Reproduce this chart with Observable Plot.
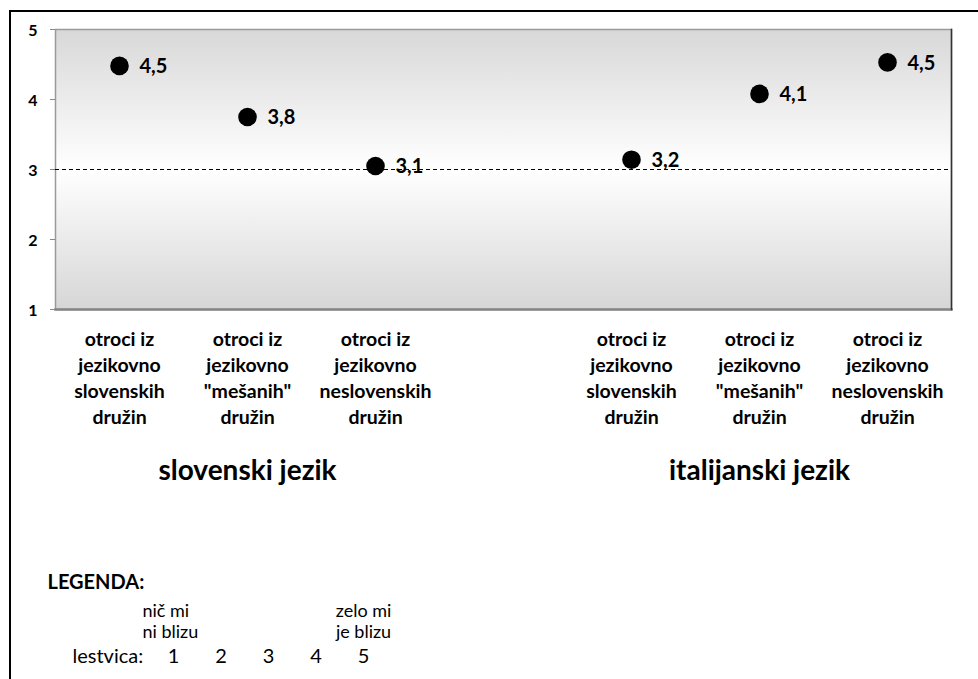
<!DOCTYPE html>
<html><head><meta charset="utf-8">
<script src="https://cdn.jsdelivr.net/npm/d3@7"></script>
<script src="https://cdn.jsdelivr.net/npm/@observablehq/plot@0.6"></script>
<style>
body{margin:0;background:#fff;font-family:Lato,"Open Sans",sans-serif;}
#wrap{position:relative;width:978px;height:679px;overflow:hidden;background:#fff;}
#border{position:absolute;left:9px;top:10px;width:1000px;height:700px;border:2px solid #000;box-sizing:border-box;}
#chart{position:absolute;left:0;top:0;}
#legend{position:absolute;left:0;top:560px;}
svg{overflow:visible;}
</style></head><body>
<div id="wrap"><div id="border"></div><div id="chart"></div><div id="legend"></div></div>
<script>
// ---- data ----
const categories = ["s1", "s2", "s3", "gap", "i1", "i2", "i3"];
const categoryLabels = [
  "otroci iz\njezikovno\nslovenskih\ndružin",
  "otroci iz\njezikovno\n\"mešanih\"\ndružin",
  "otroci iz\njezikovno\nneslovenskih\ndružin",
  "",
  "otroci iz\njezikovno\nslovenskih\ndružin",
  "otroci iz\njezikovno\n\"mešanih\"\ndružin",
  "otroci iz\njezikovno\nneslovenskih\ndružin"
];
const pointCategories = ["s1", "s2", "s3", "i1", "i2", "i3"];
const pointValues = [4.48, 3.75, 3.05, 3.14, 4.08, 4.53];
const pointLabels = ["4,5", "3,8", "3,1", "3,2", "4,1", "4,5"];
const groupNames = ["slovenski jezik", "italijanski jezik"];
const groupCenters = ["s2", "i2"];
const yTicks = [1, 2, 3, 4, 5];
const referenceLine = [3];
const legendScale = [1, 2, 3, 4, 5];
const legendTitle = "LEGENDA:";
const legendAxisLabel = "lestvica:";
const legendLow = "nič mi\nni blizu";
const legendHigh = "zelo mi\nje blizu";

// ---- table ----
const points = pointCategories.map((c, i) => ({cat: c, value: pointValues[i], label: pointLabels[i]}));
const groups = groupNames.map((g, i) => ({name: g, cat: groupCenters[i]}));
const labelOf = new Map(categories.map((c, i) => [c, categoryLabels[i]]));

const FONT = "Lato, 'Open Sans', sans-serif";

const chart = Plot.plot({
  width: 978,
  height: 500,
  marginLeft: 55,
  marginRight: 27,
  marginTop: 29,
  marginBottom: 191,
  style: {fontFamily: FONT, color: "#000", background: "transparent"},
  x: {domain: categories, paddingInner: 0, paddingOuter: 0},
  y: {domain: [1, 5]},
  marks: [
    Plot.frame({fill: "url(#bgGrad)", stroke: "#9a9a9a", strokeWidth: 1.5}),
    Plot.frame({anchor: "bottom", stroke: "#858585", strokeWidth: 2.5}),
    Plot.frame({anchor: "right", stroke: "#333", strokeWidth: 1.5}),
    Plot.ruleY(referenceLine, {stroke: "#000", strokeWidth: 1, strokeDasharray: "4,3"}),
    Plot.axisY({ticks: yTicks, tickSize: 5, stroke: "#888", text: null, label: null}),
    Plot.text(yTicks, {y: d => d, text: d => String(d), frameAnchor: "left", dx: -18, dy: 1, textAnchor: "end", lineAnchor: "middle", fontSize: 16, fontWeight: "bold", fill: "#000"}),
    Plot.axisX({ticks: categories.filter(c => labelOf.get(c)), tickSize: 0, tickPadding: 18, fontSize: 19.5, fontWeight: "bold", lineHeight: 1.33, tickFormat: c => labelOf.get(c), label: null}),
    Plot.dot(points, {x: "cat", y: "value", r: 9.3, fill: "#000", stroke: "none"}),
    Plot.text(points, {x: "cat", y: "value", text: "label", dx: 20, dy: 1, textAnchor: "start", lineAnchor: "middle", fontSize: 20, fontWeight: "bold", fill: "#000"}),
    Plot.text(groups, {x: "cat", text: "name", frameAnchor: "bottom", dy: 170, lineAnchor: "bottom", fontSize: 28, fontWeight: "bold", fill: "#000"})
  ]
});

// gradient definition
const ns = "http://www.w3.org/2000/svg";
const defs = document.createElementNS(ns, "defs");
const grad = document.createElementNS(ns, "linearGradient");
grad.setAttribute("id", "bgGrad");
grad.setAttribute("x1", "0"); grad.setAttribute("y1", "0");
grad.setAttribute("x2", "0"); grad.setAttribute("y2", "1");
[["0%", "#d8d8d8"], ["50%", "#ffffff"], ["100%", "#d6d6d6"]].forEach(([o, c]) => {
  const s = document.createElementNS(ns, "stop");
  s.setAttribute("offset", o); s.setAttribute("stop-color", c);
  grad.appendChild(s);
});
defs.appendChild(grad);
chart.insertBefore(defs, chart.firstChild);
document.getElementById("chart").appendChild(chart);

const legend = Plot.plot({
  width: 978,
  height: 119,
  margin: 0,
  style: {fontFamily: FONT, color: "#000", background: "transparent"},
  x: {domain: [1, 5], range: [173, 363], axis: null},
  marks: [
    Plot.text([legendTitle], {frameAnchor: "top-left", dx: 47, dy: 28, lineAnchor: "bottom", textAnchor: "start", fontSize: 20, fontWeight: "bold", fill: "#000"}),
    Plot.text([legendAxisLabel], {frameAnchor: "top-left", dx: 72, dy: 102, lineAnchor: "bottom", textAnchor: "start", fontSize: 20, fill: "#000"}),
    Plot.text(legendScale, {x: d => d, frameAnchor: "top", dy: 102, lineAnchor: "bottom", text: d => String(d), fontSize: 20, fill: "#000"}),
    Plot.text([legendLow], {x: () => legendScale[0], dx: -31, frameAnchor: "top", dy: 77, lineAnchor: "bottom", textAnchor: "start", lineHeight: 1.15, fontSize: 18, fill: "#000"}),
    Plot.text([legendHigh], {x: () => legendScale[legendScale.length - 1], frameAnchor: "top", dy: 77, lineAnchor: "bottom", textAnchor: "middle", lineHeight: 1.15, fontSize: 18, fill: "#000"})
  ]
});
document.getElementById("legend").appendChild(legend);
</script>
</body></html>
